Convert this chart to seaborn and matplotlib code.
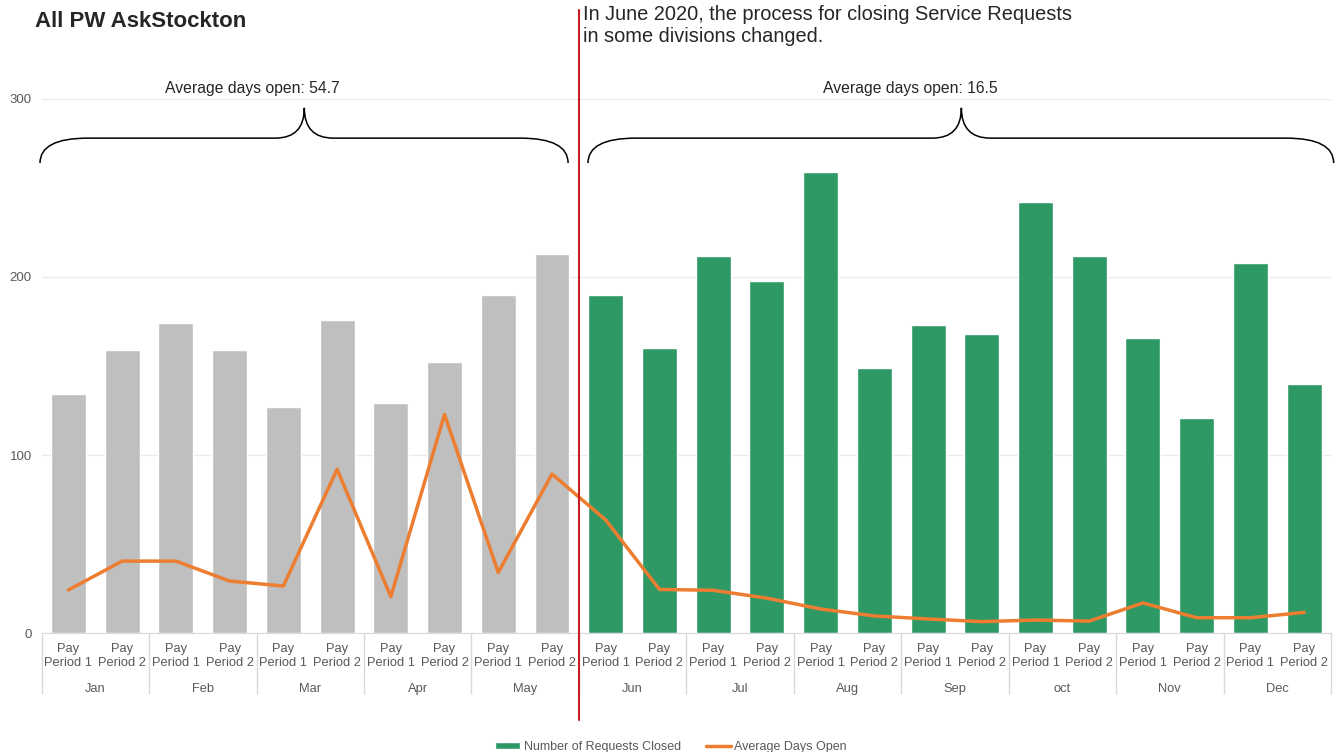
import numpy as np
import pandas as pd
import seaborn as sns
import matplotlib.pyplot as plt
from matplotlib.path import Path
from matplotlib.patches import PathPatch
import matplotlib.transforms as mtransforms

sns.set_style("white")
plt.rcParams['font.family'] = ['Liberation Sans', 'DejaVu Sans']

# Data
months = ["Jan", "Feb", "Mar", "Apr", "May", "Jun", "Jul", "Aug", "Sep", "oct", "Nov", "Dec"]
periods = ["Pay\nPeriod 1", "Pay\nPeriod 2"]
requests_closed = [134, 159, 174, 159, 127, 176, 129, 152, 190, 213,
                   190, 160, 212, 198, 259, 149, 173, 168, 242, 212, 166, 121, 208, 140]
avg_days_open = [24.2, 40.4, 40.4, 29.2, 26.4, 92.0, 20.4, 122.8, 34.0, 89.3,
                 63.5, 24.5, 24.0, 19.6, 13.5, 9.6, 7.9, 6.4, 7.3, 6.7, 16.9, 8.6, 8.6, 11.6]
avg_before = 54.7
avg_after = 16.5

gray = "#BFBFBF"
green = "#2E9965"
orange = "#ED7D31"
label_gray = "#595959"

df = pd.DataFrame({
    "slot": [f"{m} {p}" for m in months for p in periods],
    "closed": requests_closed,
    "days": avg_days_open,
})
bar_colors = [gray] * 10 + [green] * 14

fig, ax = plt.subplots(figsize=(13.42, 7.52), dpi=100)
fig.subplots_adjust(left=0.031, right=0.9918, bottom=0.1582, top=0.8684)

sns.barplot(data=df, x="slot", y="closed", hue="slot", palette=bar_colors,
            legend=False, width=0.65, saturation=1, ax=ax)
sns.lineplot(x=np.arange(len(avg_days_open)), y=df["days"], color=orange,
             linewidth=2.5, ax=ax)
days_line = ax.lines[-1]

ax.set_xlim(-0.5, 23.5)
ax.set_ylim(0, 300)
ax.set_yticks([0, 100, 200, 300])
ax.set_xlabel("")
ax.set_ylabel("")
ax.yaxis.grid(True, color="#EBEBEB", linewidth=1)
ax.set_axisbelow(True)
for s in ["top", "right", "left"]:
    ax.spines[s].set_visible(False)
ax.spines["bottom"].set_color("#D9D9D9")

ax.set_xticks(np.arange(24))
ax.set_xticklabels(periods * 12)
ax.tick_params(axis="x", which="major", length=0, pad=7, labelsize=9.3, labelcolor=label_gray)
ax.tick_params(axis="y", length=0, pad=7, labelsize=9.5, labelcolor=label_gray)
# month separators as long minor ticks
ax.set_xticks(np.arange(-0.5, 24, 2), minor=True)
ax.tick_params(axis="x", which="minor", bottom=True, length=44, width=1, color="#D9D9D9")

trans = mtransforms.blended_transform_factory(ax.transData, ax.transAxes)
for i, m in enumerate(months):
    ax.text(2 * i + 0.5, -0.104, m, transform=trans, ha="center", va="center",
            fontsize=9.3, color=label_gray)

# divider line
ax.axvline(9.5, ymin=-0.163, ymax=1.167, color="#C82020", linewidth=1.5,
           clip_on=False, zorder=5)


def brace(x0, x1, tip, y_end=264, y_mid=278, y_top=295, d_end=0.89, d_tip=0.54):
    verts = [(x0, y_end), (x0, y_mid), (x0 + d_end, y_mid),
             (tip - d_tip, y_mid),
             (tip, y_mid), (tip, y_top),
             (tip, y_mid), (tip + d_tip, y_mid),
             (x1 - d_end, y_mid),
             (x1, y_mid), (x1, y_end)]
    codes = [Path.MOVETO, Path.CURVE3, Path.CURVE3,
             Path.LINETO,
             Path.CURVE3, Path.CURVE3,
             Path.CURVE3, Path.CURVE3,
             Path.LINETO,
             Path.CURVE3, Path.CURVE3]
    ax.add_patch(PathPatch(Path(verts, codes), facecolor="none", edgecolor="black",
                           linewidth=1.1, clip_on=False, zorder=4))


brace(-0.53, 9.30, 4.39)
brace(9.67, 23.55, 16.62)
ax.text(3.42, 306, f"Average days open: {avg_before}", ha="center", va="center", fontsize=11.3)
ax.text(15.67, 306, f"Average days open: {avg_after}", ha="center", va="center", fontsize=11.3)

fig.text(0.026, 0.972, "All PW AskStockton", fontsize=16, fontweight="bold", va="center")
fig.text(583 / 1342, 0.993, "In June 2020, the process for closing Service Requests\nin some divisions changed.",
         fontsize=14.4, va="top", ha="left", linespacing=1.2)

fig.legend([ax.patches[10], days_line], ["Number of Requests Closed", "Average Days Open"],
           loc="lower center", bbox_to_anchor=(0.5, -0.016), ncol=2, frameon=False, fontsize=9,
           labelcolor=label_gray, handlelength=2.0, handleheight=0.5,
           handletextpad=0.3, columnspacing=2.0)

fig.savefig("out.png", dpi=100)
